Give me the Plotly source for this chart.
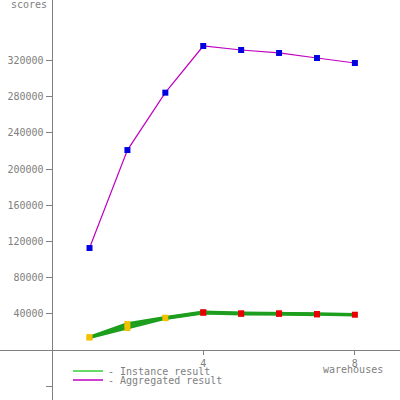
import plotly.graph_objects as go

warehouses = [1, 2, 3, 4, 5, 6, 7, 8]
aggregated = [112700, 221000, 284400, 336000, 331600, 328300, 322700, 317200]
instance_a = [14000, 28700, 35700, 41700, 40500, 40500, 39800, 39000]
instance_b = [14000, 24300, 35200, 41200, 40000, 40000, 39300, None]
instance_marker_colors = ["#f2c200"] * 3 + ["#e80000"] * 5
y_tick_vals = [-40000, 40000, 80000, 120000, 160000, 200000, 240000, 280000, 320000]
y_tick_text = [""] + [str(v) for v in y_tick_vals[1:]]
x_tick_vals = [4, 8]
x_tick_text = ["4", "8"]

GRAY = "#808080"
FONT = dict(family="DejaVu Sans Mono", size=10, color=GRAY)
GREEN = "#1e9e1e"
MAGENTA = "#c000c0"

fig = go.Figure()
for vals in (instance_a, instance_b):
    fig.add_trace(go.Scatter(
        x=warehouses, y=vals, mode="lines+markers", showlegend=False,
        line=dict(color=GREEN, width=3.5),
        marker=dict(color=instance_marker_colors, size=6, symbol="square"),
    ))
fig.add_trace(go.Scatter(
    x=warehouses, y=aggregated, mode="lines+markers", showlegend=False,
    line=dict(color=MAGENTA, width=1.2),
    marker=dict(color="#0000e0", size=6, symbol="square"),
))
# legend-only entries (line samples without markers)
fig.add_trace(go.Scatter(
    x=[None], y=[None], mode="lines", name="- Instance result",
    line=dict(color="#33cc33", width=1.5), legend="legend",
))
fig.add_trace(go.Scatter(
    x=[None], y=[None], mode="lines", name="- Aggregated result",
    line=dict(color=MAGENTA, width=1.5), legend="legend2",
))

fig.update_layout(
    width=400, height=400,
    margin=dict(l=0, r=0, t=0, b=0),
    plot_bgcolor="white", paper_bgcolor="white",
    font=FONT,
    xaxis=dict(range=[-1.361, 9.19], showgrid=False, zeroline=False,
               showline=True, linecolor=GRAY, linewidth=1,
               anchor="free", position=0.125,
               tickvals=x_tick_vals, ticktext=x_tick_text,
               ticks="outside", ticklen=4, tickcolor=GRAY, tickfont=FONT,
               automargin=False),
    yaxis=dict(range=[-55260, 386840], showgrid=False, zeroline=False,
               showline=True, linecolor=GRAY, linewidth=1,
               anchor="free", position=0.129,
               tickvals=y_tick_vals, ticktext=y_tick_text,
               ticks="outside", ticklen=6, tickcolor=GRAY, tickfont=FONT,
               automargin=False),
    legend=dict(x=0.17, y=1 - 371 / 400, xanchor="left", yanchor="middle",
                font=FONT, bgcolor="rgba(0,0,0,0)", itemwidth=30),
    legend2=dict(x=0.17, y=1 - 380 / 400, xanchor="left", yanchor="middle",
                 font=FONT, bgcolor="rgba(0,0,0,0)", itemwidth=30),
    annotations=[
        dict(text="scores", x=29 / 400, y=1 - 5 / 400, xref="paper", yref="paper",
             showarrow=False, xanchor="center", yanchor="middle", font=FONT),
        dict(text="warehouses", x=353 / 400, y=1 - 369 / 400, xref="paper", yref="paper",
             showarrow=False, xanchor="center", yanchor="middle", font=FONT),
    ],
)

fig.write_html("out.html", config={"displayModeBar": False},
               post_script="document.body.style.margin='0';")
